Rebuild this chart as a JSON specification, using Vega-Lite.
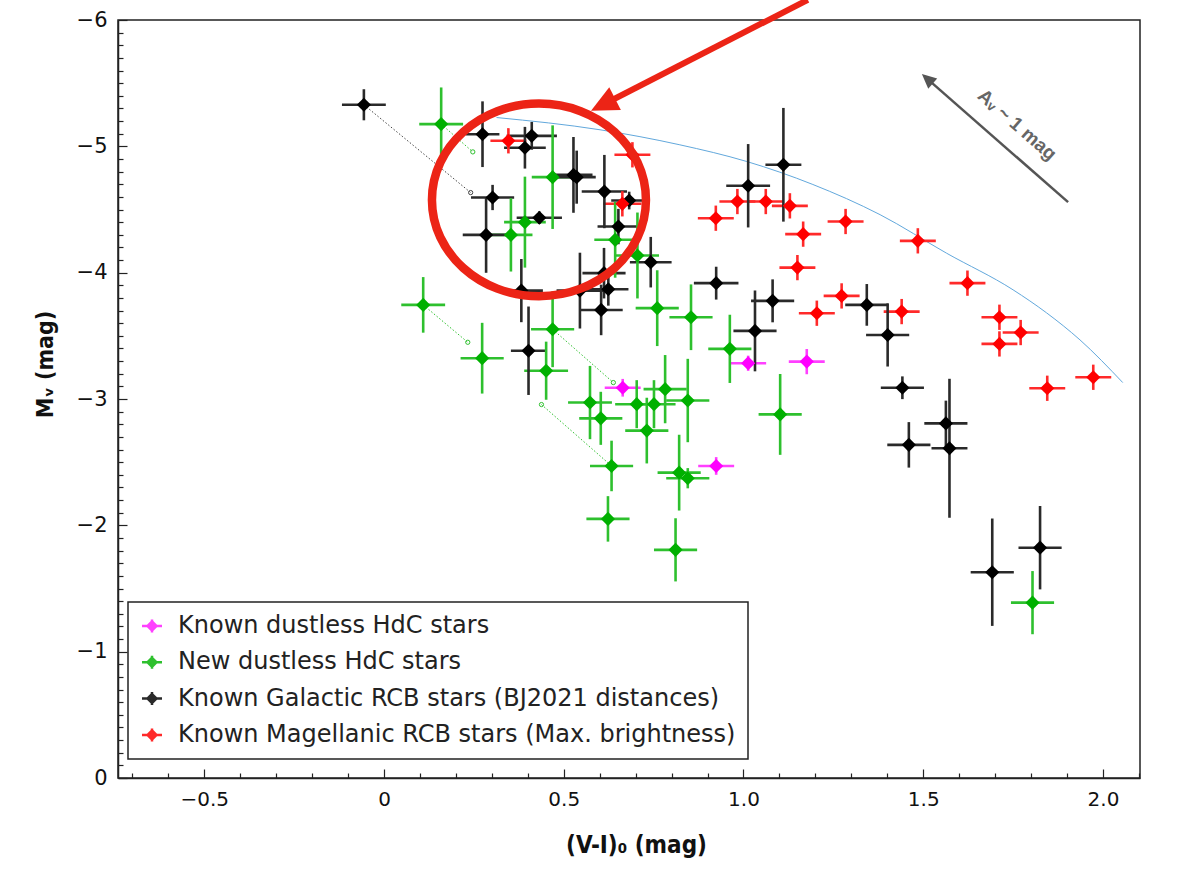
{
  "$schema": "https://vega.github.io/schema/vega-lite/v6.json",
  "width": 1022,
  "height": 758,
  "autosize": {"type": "none"},
  "padding": {"left": 118, "top": 20, "right": 39, "bottom": 93},
  "background": "white",
  "config": {
    "view": {"stroke": "#222", "strokeWidth": 1.5},
    "font": "DejaVu Sans",
    "legend": {
      "orient": "none",
      "legendX": 10,
      "legendY": 582,
      "direction": "vertical",
      "strokeColor": "#222",
      "strokeWidth": 1.5,
      "fillColor": "white",
      "padding": 12,
      "rowPadding": 12.3,
      "symbolType": "M -1 0 L 1 0 M 0 -0.65 L 0 0.65 M 0 -0.45 L 0.45 0 L 0 0.45 L -0.45 0 Z",
      "symbolSize": 400,
      "symbolStrokeWidth": 2.5,
      "symbolOpacity": 1,
      "labelFont": "DejaVu Sans",
      "labelFontSize": 24,
      "labelColor": "#222",
      "labelOffset": 14,
      "labelLimit": 1000
    }
  },
  "datasets": {
    "stars": [
      {"cat": "New dustless HdC stars", "x": 0.159, "y": -5.176, "ex": 0.061, "ey": 0.29},
      {"cat": "New dustless HdC stars", "x": 0.469, "y": -4.756, "ex": 0.058, "ey": 0.41},
      {"cat": "New dustless HdC stars", "x": 0.392, "y": -4.4, "ex": 0.058, "ey": 0.36},
      {"cat": "New dustless HdC stars", "x": 0.353, "y": -4.299, "ex": 0.06, "ey": 0.29},
      {"cat": "New dustless HdC stars", "x": 0.643, "y": -4.26, "ex": 0.058, "ey": 0.3},
      {"cat": "New dustless HdC stars", "x": 0.705, "y": -4.136, "ex": 0.06, "ey": 0.34},
      {"cat": "New dustless HdC stars", "x": 0.109, "y": -3.745, "ex": 0.061, "ey": 0.22},
      {"cat": "New dustless HdC stars", "x": 0.76, "y": -3.719, "ex": 0.06, "ey": 0.3},
      {"cat": "New dustless HdC stars", "x": 0.854, "y": -3.647, "ex": 0.06, "ey": 0.26},
      {"cat": "New dustless HdC stars", "x": 0.469, "y": -3.552, "ex": 0.06, "ey": 0.3},
      {"cat": "New dustless HdC stars", "x": 0.273, "y": -3.323, "ex": 0.06, "ey": 0.28},
      {"cat": "New dustless HdC stars", "x": 0.962, "y": -3.397, "ex": 0.06, "ey": 0.27},
      {"cat": "New dustless HdC stars", "x": 0.451, "y": -3.224, "ex": 0.061, "ey": 0.23},
      {"cat": "New dustless HdC stars", "x": 0.782, "y": -3.078, "ex": 0.06, "ey": 0.27},
      {"cat": "New dustless HdC stars", "x": 0.573, "y": -2.972, "ex": 0.061, "ey": 0.29},
      {"cat": "New dustless HdC stars", "x": 0.703, "y": -2.959, "ex": 0.06, "ey": 0.19},
      {"cat": "New dustless HdC stars", "x": 0.751, "y": -2.959, "ex": 0.06, "ey": 0.19},
      {"cat": "New dustless HdC stars", "x": 0.845, "y": -2.988, "ex": 0.06, "ey": 0.33},
      {"cat": "New dustless HdC stars", "x": 0.603, "y": -2.847, "ex": 0.06, "ey": 0.21},
      {"cat": "New dustless HdC stars", "x": 1.102, "y": -2.878, "ex": 0.06, "ey": 0.32},
      {"cat": "New dustless HdC stars", "x": 0.731, "y": -2.75, "ex": 0.06, "ey": 0.26},
      {"cat": "New dustless HdC stars", "x": 0.633, "y": -2.47, "ex": 0.06, "ey": 0.2},
      {"cat": "New dustless HdC stars", "x": 0.821, "y": -2.417, "ex": 0.06, "ey": 0.3},
      {"cat": "New dustless HdC stars", "x": 0.845, "y": -2.373, "ex": 0.06, "ey": 0.08},
      {"cat": "New dustless HdC stars", "x": 0.623, "y": -2.051, "ex": 0.06, "ey": 0.18},
      {"cat": "New dustless HdC stars", "x": 0.811, "y": -1.806, "ex": 0.06, "ey": 0.25},
      {"cat": "New dustless HdC stars", "x": 1.804, "y": -1.388, "ex": 0.06, "ey": 0.25},
      {"cat": "Known dustless HdC stars", "x": 0.664, "y": -3.089, "ex": 0.05, "ey": 0.07},
      {"cat": "Known dustless HdC stars", "x": 1.013, "y": -3.283, "ex": 0.05, "ey": 0.06},
      {"cat": "Known dustless HdC stars", "x": 1.176, "y": -3.296, "ex": 0.05, "ey": 0.1},
      {"cat": "Known dustless HdC stars", "x": 0.924, "y": -2.47, "ex": 0.05, "ey": 0.07},
      {"cat": "Known Galactic RCB stars (BJ2021 distances)", "x": -0.056, "y": -5.329, "ex": 0.061, "ey": 0.123},
      {"cat": "Known Galactic RCB stars (BJ2021 distances)", "x": 0.274, "y": -5.096, "ex": 0.047, "ey": 0.26},
      {"cat": "Known Galactic RCB stars (BJ2021 distances)", "x": 0.411, "y": -5.083, "ex": 0.07, "ey": 0.11},
      {"cat": "Known Galactic RCB stars (BJ2021 distances)", "x": 0.392, "y": -4.989, "ex": 0.058, "ey": 0.165},
      {"cat": "Known Galactic RCB stars (BJ2021 distances)", "x": 0.527, "y": -4.774, "ex": 0.053, "ey": 0.3},
      {"cat": "Known Galactic RCB stars (BJ2021 distances)", "x": 0.536, "y": -4.756, "ex": 0.053, "ey": 0.21},
      {"cat": "Known Galactic RCB stars (BJ2021 distances)", "x": 0.613, "y": -4.642, "ex": 0.063, "ey": 0.29},
      {"cat": "Known Galactic RCB stars (BJ2021 distances)", "x": 0.682, "y": -4.571, "ex": 0.05, "ey": 0.07},
      {"cat": "Known Galactic RCB stars (BJ2021 distances)", "x": 0.302, "y": -4.595, "ex": 0.06, "ey": 0.1},
      {"cat": "Known Galactic RCB stars (BJ2021 distances)", "x": 0.284, "y": -4.299, "ex": 0.065, "ey": 0.3},
      {"cat": "Known Galactic RCB stars (BJ2021 distances)", "x": 0.432, "y": -4.435, "ex": 0.063, "ey": 0.05},
      {"cat": "Known Galactic RCB stars (BJ2021 distances)", "x": 0.652, "y": -4.365, "ex": 0.058, "ey": 0.14},
      {"cat": "Known Galactic RCB stars (BJ2021 distances)", "x": 0.742, "y": -4.083, "ex": 0.058, "ey": 0.2},
      {"cat": "Known Galactic RCB stars (BJ2021 distances)", "x": 0.382, "y": -3.858, "ex": 0.06, "ey": 0.25},
      {"cat": "Known Galactic RCB stars (BJ2021 distances)", "x": 0.545, "y": -3.858, "ex": 0.065, "ey": 0.3},
      {"cat": "Known Galactic RCB stars (BJ2021 distances)", "x": 0.612, "y": -3.996, "ex": 0.06, "ey": 0.2},
      {"cat": "Known Galactic RCB stars (BJ2021 distances)", "x": 0.624, "y": -3.869, "ex": 0.056, "ey": 0.13},
      {"cat": "Known Galactic RCB stars (BJ2021 distances)", "x": 0.604, "y": -3.705, "ex": 0.06, "ey": 0.2},
      {"cat": "Known Galactic RCB stars (BJ2021 distances)", "x": 0.402, "y": -3.382, "ex": 0.049, "ey": 0.35},
      {"cat": "Known Galactic RCB stars (BJ2021 distances)", "x": 1.111, "y": -4.854, "ex": 0.05, "ey": 0.45},
      {"cat": "Known Galactic RCB stars (BJ2021 distances)", "x": 1.013, "y": -4.688, "ex": 0.061, "ey": 0.33},
      {"cat": "Known Galactic RCB stars (BJ2021 distances)", "x": 0.924, "y": -3.917, "ex": 0.062, "ey": 0.13},
      {"cat": "Known Galactic RCB stars (BJ2021 distances)", "x": 1.081, "y": -3.777, "ex": 0.06, "ey": 0.17},
      {"cat": "Known Galactic RCB stars (BJ2021 distances)", "x": 1.343, "y": -3.745, "ex": 0.06, "ey": 0.165},
      {"cat": "Known Galactic RCB stars (BJ2021 distances)", "x": 1.032, "y": -3.539, "ex": 0.06, "ey": 0.32},
      {"cat": "Known Galactic RCB stars (BJ2021 distances)", "x": 1.401, "y": -3.507, "ex": 0.06, "ey": 0.25},
      {"cat": "Known Galactic RCB stars (BJ2021 distances)", "x": 1.442, "y": -3.089, "ex": 0.06, "ey": 0.09},
      {"cat": "Known Galactic RCB stars (BJ2021 distances)", "x": 1.563, "y": -2.807, "ex": 0.06, "ey": 0.18},
      {"cat": "Known Galactic RCB stars (BJ2021 distances)", "x": 1.46, "y": -2.637, "ex": 0.06, "ey": 0.18},
      {"cat": "Known Galactic RCB stars (BJ2021 distances)", "x": 1.573, "y": -2.61, "ex": 0.05, "ey": 0.55},
      {"cat": "Known Galactic RCB stars (BJ2021 distances)", "x": 1.692, "y": -1.629, "ex": 0.06, "ey": 0.425},
      {"cat": "Known Galactic RCB stars (BJ2021 distances)", "x": 1.825, "y": -1.823, "ex": 0.06, "ey": 0.33},
      {"cat": "Known Magellanic RCB stars (Max. brightness)", "x": 0.346, "y": -5.044, "ex": 0.05, "ey": 0.1},
      {"cat": "Known Magellanic RCB stars (Max. brightness)", "x": 0.691, "y": -4.933, "ex": 0.05, "ey": 0.1},
      {"cat": "Known Magellanic RCB stars (Max. brightness)", "x": 0.663, "y": -4.545, "ex": 0.053, "ey": 0.1},
      {"cat": "Known Magellanic RCB stars (Max. brightness)", "x": 0.923, "y": -4.431, "ex": 0.05, "ey": 0.1},
      {"cat": "Known Magellanic RCB stars (Max. brightness)", "x": 0.983, "y": -4.563, "ex": 0.05, "ey": 0.1},
      {"cat": "Known Magellanic RCB stars (Max. brightness)", "x": 1.062, "y": -4.563, "ex": 0.05, "ey": 0.1},
      {"cat": "Known Magellanic RCB stars (Max. brightness)", "x": 1.129, "y": -4.529, "ex": 0.05, "ey": 0.1},
      {"cat": "Known Magellanic RCB stars (Max. brightness)", "x": 1.166, "y": -4.305, "ex": 0.05, "ey": 0.1},
      {"cat": "Known Magellanic RCB stars (Max. brightness)", "x": 1.284, "y": -4.405, "ex": 0.05, "ey": 0.1},
      {"cat": "Known Magellanic RCB stars (Max. brightness)", "x": 1.485, "y": -4.252, "ex": 0.05, "ey": 0.1},
      {"cat": "Known Magellanic RCB stars (Max. brightness)", "x": 1.15, "y": -4.04, "ex": 0.05, "ey": 0.1},
      {"cat": "Known Magellanic RCB stars (Max. brightness)", "x": 1.623, "y": -3.917, "ex": 0.05, "ey": 0.1},
      {"cat": "Known Magellanic RCB stars (Max. brightness)", "x": 1.273, "y": -3.816, "ex": 0.05, "ey": 0.1},
      {"cat": "Known Magellanic RCB stars (Max. brightness)", "x": 1.204, "y": -3.679, "ex": 0.05, "ey": 0.1},
      {"cat": "Known Magellanic RCB stars (Max. brightness)", "x": 1.44, "y": -3.692, "ex": 0.05, "ey": 0.1},
      {"cat": "Known Magellanic RCB stars (Max. brightness)", "x": 1.712, "y": -3.647, "ex": 0.05, "ey": 0.1},
      {"cat": "Known Magellanic RCB stars (Max. brightness)", "x": 1.771, "y": -3.526, "ex": 0.05, "ey": 0.1},
      {"cat": "Known Magellanic RCB stars (Max. brightness)", "x": 1.712, "y": -3.436, "ex": 0.05, "ey": 0.1},
      {"cat": "Known Magellanic RCB stars (Max. brightness)", "x": 1.973, "y": -3.172, "ex": 0.05, "ey": 0.1},
      {"cat": "Known Magellanic RCB stars (Max. brightness)", "x": 1.845, "y": -3.085, "ex": 0.05, "ey": 0.1}
    ],
    "linksBlack": [
      {"id": "L1", "x": -0.056, "y": -5.329},
      {"id": "L1", "x": 0.241, "y": -4.634}
    ],
    "linksGreen": [
      {"id": "L2", "x": 0.159, "y": -5.176},
      {"id": "L2", "x": 0.247, "y": -4.956},
      {"id": "L3", "x": 0.109, "y": -3.745},
      {"id": "L3", "x": 0.233, "y": -3.449},
      {"id": "L4", "x": 0.469, "y": -3.552},
      {"id": "L4", "x": 0.638, "y": -3.13},
      {"id": "L5", "x": 0.438, "y": -2.956},
      {"id": "L5", "x": 0.633, "y": -2.47}
    ],
    "endsBlack": [
      {"x": 0.241, "y": -4.634}
    ],
    "endsGreen": [
      {"x": 0.247, "y": -4.956},
      {"x": 0.233, "y": -3.449},
      {"x": 0.638, "y": -3.13},
      {"x": 0.438, "y": -2.956}
    ],
    "curve": [
      {"x": 0.313, "y": -5.228},
      {"x": 0.601, "y": -5.131},
      {"x": 0.823, "y": -5.012},
      {"x": 1.009, "y": -4.88},
      {"x": 1.193, "y": -4.698},
      {"x": 1.38, "y": -4.459},
      {"x": 1.565, "y": -4.154},
      {"x": 1.75, "y": -3.864},
      {"x": 1.843, "y": -3.682},
      {"x": 1.936, "y": -3.468},
      {"x": 2.055, "y": -3.13}
    ],
    "circle": [{"x": 0.431, "y": -4.576}],
    "arrowRed": [{"x": 1.179, "y": -6.16, "x2": 0.613, "y2": -5.335}],
    "arrowRedHead": [{"x": 0.613, "y": -5.335}],
    "arrowGray": [{"x": 1.903, "y": -4.558, "x2": 1.513, "y2": -5.53}],
    "arrowGrayHead": [{"x": 1.513, "y": -5.53}],
    "avText": [{"x": 1.761, "y": -5.17, "label": "Aᵥ ~ 1 mag"}]
  },
  "encoding": {
    "x": {
      "field": "x",
      "type": "quantitative",
      "title": "(V-I)₀ (mag)",
      "scale": {"domain": [-0.74, 2.103], "nice": false, "zero": false},
      "axis": {
        "values": [-0.7, -0.6, -0.5, -0.4, -0.3, -0.2, -0.1, 0, 0.1, 0.2, 0.3, 0.4, 0.5, 0.6, 0.7, 0.8, 0.9, 1, 1.1, 1.2, 1.3, 1.4, 1.5, 1.6, 1.7, 1.8, 1.9, 2, 2.1],
        "labelExpr": "abs(datum.value*2 - round(datum.value*2)) < 0.001 ? (abs(datum.value) < 0.001 ? '0' : format(datum.value, '.1f')) : ''",
        "tickSize": {"condition": {"test": "abs(datum.value*2 - round(datum.value*2)) < 0.001", "value": -9}, "value": -5},
        "tickColor": "#222",
        "tickWidth": 1.2,
        "domainColor": "#222",
        "domainWidth": 1.5,
        "grid": false,
        "labelFont": "DejaVu Sans",
        "labelFontSize": 20,
        "labelColor": "#111",
        "labelPadding": 20,
        "labelOverlap": false,
        "labelBound": false,
        "labelFlush": false,
        "titleFont": "DejaVu Sans Condensed, Liberation Sans Narrow, Liberation Sans",
        "titleFontWeight": "bold",
        "titleFontSize": 24,
        "titleColor": "#111",
        "titleX": 518,
        "titleY": 67,
        "titleAlign": "center",
        "titleBaseline": "middle"
      }
    },
    "y": {
      "field": "y",
      "type": "quantitative",
      "title": "Mᵥ (mag)",
      "scale": {"domain": [-6, 0], "reverse": true, "nice": false, "zero": false},
      "axis": {
        "values": [-6, -5.9, -5.8, -5.7, -5.6, -5.5, -5.4, -5.3, -5.2, -5.1, -5, -4.9, -4.8, -4.7, -4.6, -4.5, -4.4, -4.3, -4.2, -4.1, -4, -3.9, -3.8, -3.7, -3.6, -3.5, -3.4, -3.3, -3.2, -3.1, -3, -2.9, -2.8, -2.7, -2.6, -2.5, -2.4, -2.3, -2.2, -2.1, -2, -1.9, -1.8, -1.7, -1.6, -1.5, -1.4, -1.3, -1.2, -1.1, -1, -0.9, -0.8, -0.7, -0.6, -0.5, -0.4, -0.3, -0.2, -0.1, 0],
        "labelExpr": "abs(datum.value - round(datum.value)) < 0.001 ? format(datum.value, 'd') : ''",
        "tickSize": {"condition": {"test": "abs(datum.value - round(datum.value)) < 0.001", "value": -9}, "value": -5},
        "tickColor": "#222",
        "tickWidth": 1.2,
        "domainColor": "#222",
        "domainWidth": 1.5,
        "grid": false,
        "labelFont": "DejaVu Sans",
        "labelFontSize": 21,
        "labelColor": "#111",
        "labelPadding": 20,
        "labelOverlap": false,
        "labelBound": false,
        "labelFlush": false,
        "titleFont": "DejaVu Sans Condensed, Liberation Sans Narrow, Liberation Sans",
        "titleFontWeight": "bold",
        "titleFontSize": 23,
        "titleColor": "#111",
        "titleAngle": 270,
        "titleX": -73,
        "titleY": 344,
        "titleAlign": "center",
        "titleBaseline": "middle"
      }
    }
  },
  "layer": [
    {
      "data": {"name": "curve"},
      "mark": {"type": "line", "color": "#62a8dc", "strokeWidth": 1, "interpolate": "monotone"},
      "encoding": {}
    },
    {
      "data": {"name": "linksBlack"},
      "mark": {"type": "line", "strokeDash": [1.5, 2], "strokeWidth": 1, "color": "#444444"},
      "encoding": {"detail": {"field": "id"}}
    },
    {
      "data": {"name": "linksGreen"},
      "mark": {"type": "line", "strokeDash": [1.5, 2], "strokeWidth": 1, "color": "#2ec02e"},
      "encoding": {"detail": {"field": "id"}}
    },
    {
      "data": {"name": "endsBlack"},
      "mark": {"type": "point", "shape": "circle", "filled": false, "size": 18, "strokeWidth": 1, "opacity": 1, "color": "#444444"}
    },
    {
      "data": {"name": "endsGreen"},
      "mark": {"type": "point", "shape": "circle", "filled": false, "size": 18, "strokeWidth": 1, "opacity": 1, "color": "#2ec02e"}
    },
    {
      "data": {"name": "stars"},
      "mark": {"type": "errorbar", "thickness": 2.6},
      "encoding": {
        "xError": {"field": "ex"},
        "color": {"field": "cat", "type": "nominal", "title": null, "scale": {"domain": ["Known dustless HdC stars", "New dustless HdC stars", "Known Galactic RCB stars (BJ2021 distances)", "Known Magellanic RCB stars (Max. brightness)"], "range": ["#ff40ff", "#2ec02e", "#2a2a2a", "#ff2a2a"]}}
      }
    },
    {
      "data": {"name": "stars"},
      "mark": {"type": "errorbar", "thickness": 2.6},
      "encoding": {
        "yError": {"field": "ey"},
        "color": {"field": "cat", "type": "nominal", "title": null}
      }
    },
    {
      "data": {"name": "stars"},
      "mark": {"type": "point", "shape": "diamond", "filled": true, "size": 200, "opacity": 1},
      "encoding": {
        "fill": {
          "field": "cat",
          "type": "nominal",
          "title": null,
          "scale": {"domain": ["Known dustless HdC stars", "New dustless HdC stars", "Known Galactic RCB stars (BJ2021 distances)", "Known Magellanic RCB stars (Max. brightness)"], "range": ["#ff00ff", "#00b000", "#000000", "#ff0000"]}
        }
      }
    },
    {
      "data": {"name": "circle"},
      "mark": {"type": "point", "shape": "M -1 0 C -1 -0.497 -0.552 -0.9 0 -0.9 C 0.552 -0.9 1 -0.497 1 0 C 1 0.497 0.552 0.9 0 0.9 C -0.552 0.9 -1 0.497 -1 0 Z", "size": 45796, "filled": false, "color": "#ec2416", "strokeWidth": 8.5, "opacity": 1}
    },
    {
      "data": {"name": "arrowRed"},
      "mark": {"type": "rule", "color": "#ec2416", "strokeWidth": 6},
      "encoding": {"x2": {"field": "x2"}, "y2": {"field": "y2"}}
    },
    {
      "data": {"name": "arrowRedHead"},
      "mark": {"type": "point", "shape": "M 0 -1 L 0.85 0.8 L -0.85 0.8 Z", "size": 900, "filled": true, "color": "#ec2416", "angle": 242.9, "opacity": 1}
    },
    {
      "data": {"name": "arrowGray"},
      "mark": {"type": "rule", "color": "#555555", "strokeWidth": 2.5},
      "encoding": {"x2": {"field": "x2"}, "y2": {"field": "y2"}}
    },
    {
      "data": {"name": "arrowGrayHead"},
      "mark": {"type": "point", "shape": "M 0 -1 L 0.85 0.8 L -0.85 0.8 Z", "size": 256, "filled": true, "color": "#555555", "angle": 311.2, "opacity": 1}
    },
    {
      "data": {"name": "avText"},
      "mark": {"type": "text", "angle": 41, "font": "Liberation Sans", "fontSize": 19, "fontWeight": "bold", "color": "#666666", "align": "center", "baseline": "middle"},
      "encoding": {"text": {"field": "label"}}
    }
  ]
}
